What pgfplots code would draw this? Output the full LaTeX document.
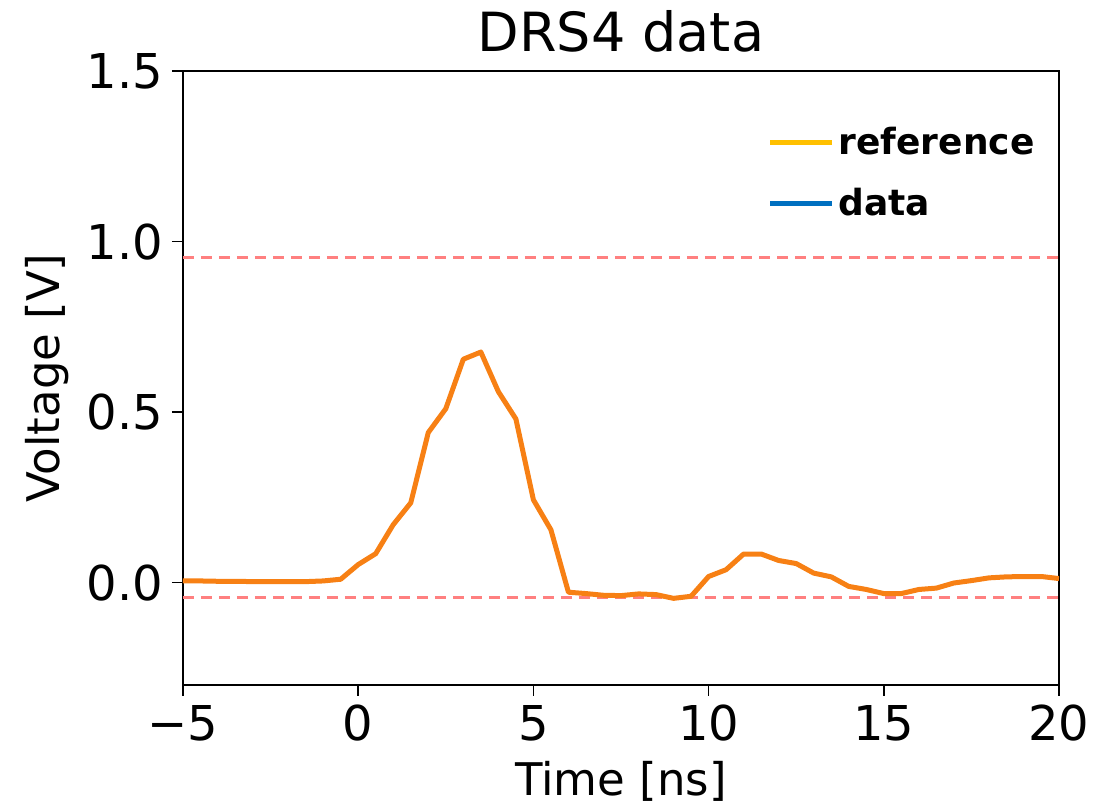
\documentclass[border=0pt]{standalone}
\usepackage{fontspec}
\setmainfont{DejaVu Sans}
\usepackage{pgfplots}
\pgfplotsset{compat=1.18}
\definecolor{lineorange}{RGB}{247,128,20}
\definecolor{refyellow}{RGB}{255,192,0}
\definecolor{datablue}{RGB}{0,112,192}
\definecolor{dashred}{RGB}{255,128,128}
\begin{document}
\begin{tikzpicture}
\useasboundingbox (-91.5pt,-61pt) rectangle (463.5pt,342.5pt);
\begin{axis}[
  at={(0pt,0pt)}, anchor=south west,
  scale only axis, width=438pt, height=307pt,
  xmin=-5, xmax=20, ymin=-0.3, ymax=1.5,
  xtick={-5,0,5,10,15,20},
  xticklabels={−5,0,5,10,15,20},
  ytick={0,0.5,1,1.5},
  yticklabels={0.0,0.5,1.0,1.5},
  tick align=outside, tick pos=lower,
  major tick length=5.5pt,
  every tick/.style={black, line width=0.7pt},
  axis line style={line width=0.7pt},
  ticklabel style={font=\fontsize{24}{28}\selectfont},
  xticklabel style={yshift=-1pt},
  yticklabel style={xshift=-1pt},
  xlabel={Time [ns]}, ylabel={Voltage [V]},
  label style={font=\fontsize{22.5}{26}\selectfont},
  xlabel style={yshift=-3pt},
  ylabel style={yshift=2pt},
  title={DRS4 data},
  title style={font=\fontsize{27}{32}\selectfont, yshift=0pt},
  legend style={draw=none, fill=none, at={(0.977,0.915)}, anchor=north east,
    font=\fontsize{18}{21}\selectfont\bfseries, row sep=11pt, inner sep=0pt},
  legend cell align=left,
  legend image code/.code={\draw[#1, line width=2.5pt] (0pt,0pt) -- (31pt,0pt);},
]
\addlegendimage{refyellow}
\addlegendentry{reference}
\addlegendimage{datablue}
\addlegendentry{data}
\addplot[forget plot, dashred, line width=1.7pt, dash pattern=on 5.5pt off 3.5pt] coordinates {(-5,0.953) (20,0.953)};
\addplot[forget plot, dashred, line width=1.7pt, dash pattern=on 5.5pt off 3.5pt] coordinates {(-5,-0.044) (20,-0.044)};
\addplot[forget plot, lineorange, line width=2.5pt, line join=round] coordinates {
(-5,0.005) (-4.5,0.005) (-4,0.004) (-3.5,0.004) (-3,0.003) (-2.5,0.003) (-2,0.003) (-1.5,0.003) (-1,0.005) (-0.5,0.01)
(0,0.053) (0.5,0.085) (1,0.17) (1.5,0.234) (2,0.44) (2.5,0.51) (3,0.655) (3.5,0.676) (4,0.56) (4.5,0.48)
(5,0.243) (5.5,0.155) (6,-0.028) (6.5,-0.032) (7,-0.037) (7.5,-0.038) (8,-0.033) (8.5,-0.035) (9,-0.046) (9.5,-0.04)
(10,0.018) (10.5,0.038) (11,0.084) (11.5,0.084) (12,0.065) (12.5,0.056) (13,0.028) (13.5,0.017) (14,-0.011) (14.5,-0.02)
(15,-0.032) (15.5,-0.032) (16,-0.02) (16.5,-0.016) (17,-0.001) (17.5,0.006) (18,0.014) (18.5,0.017) (19,0.018) (19.5,0.018) (20,0.012)
};
\end{axis}
\end{tikzpicture}
\end{document}
